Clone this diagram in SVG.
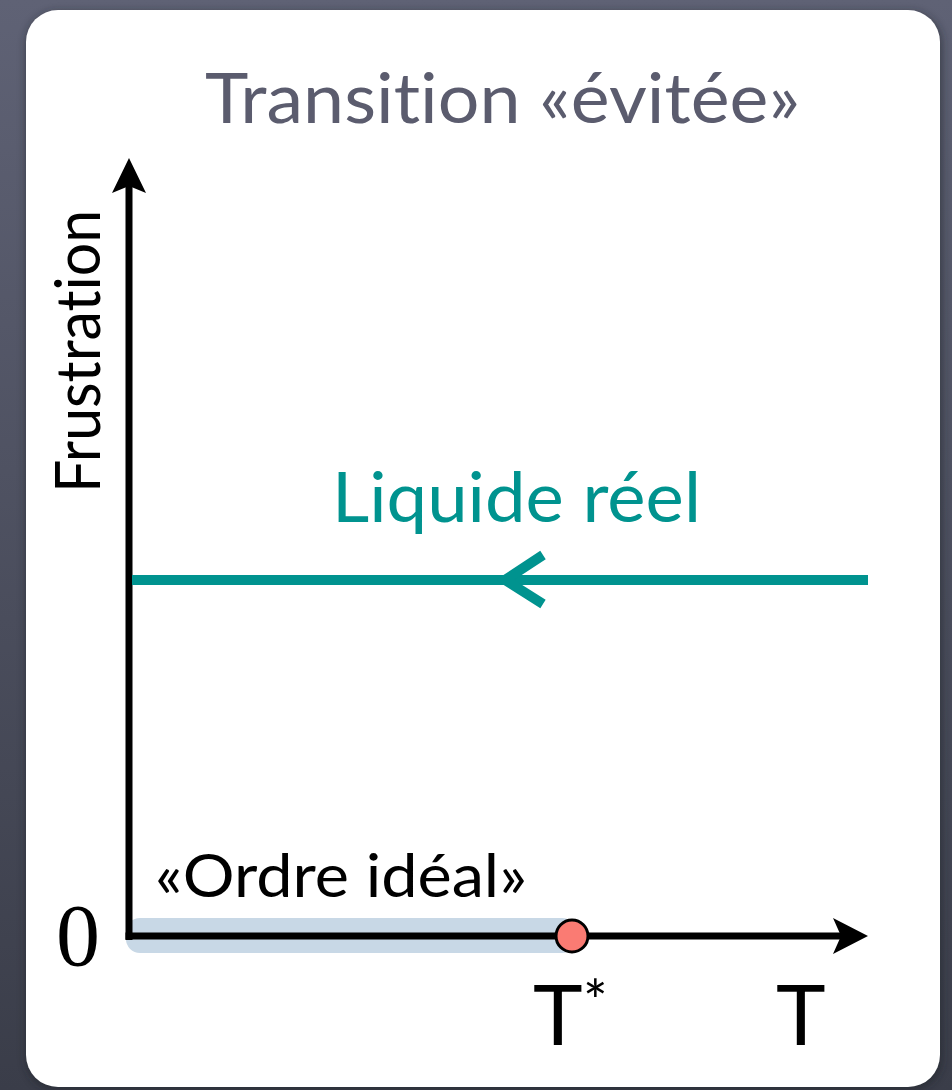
<svg xmlns="http://www.w3.org/2000/svg" width="952" height="1090" viewBox="0 0 952 1090">
  <defs>
    <linearGradient id="bg" x1="0" y1="0" x2="0" y2="1">
      <stop offset="0" stop-color="#5f6275"/>
      <stop offset="1" stop-color="#3a3d49"/>
    </linearGradient>
    <filter id="shadow" x="-5%" y="-5%" width="110%" height="110%">
      <feGaussianBlur stdDeviation="4"/>
    </filter>
  </defs>
  <style>
    .sans { font-family: Lato, "Open Sans", "Liberation Sans", sans-serif; font-weight: 400; font-variant-ligatures: none; }
    .serif { font-family: "Liberation Serif", serif; }
    .axis { stroke: #000; stroke-width: 7; fill: none; }
    .head { fill: #000; stroke: none; }
    .teal { stroke: #00938f; stroke-width: 10; fill: none; }
  </style>
  <rect x="0" y="0" width="952" height="1090" fill="url(#bg)"/>
  <rect x="26" y="12" width="916" height="1078" rx="32" fill="#1e2028" opacity="0.55" filter="url(#shadow)"/>
  <rect id="card" x="26" y="10" width="914" height="1077" rx="32" fill="#ffffff"/>

  <g id="title">
    <text class="sans" x="205" y="123" font-size="70" fill="#5b5c6e" textLength="595" lengthAdjust="spacingAndGlyphs">Transition «évitée»</text>
  </g>

  <g id="band">
    <rect x="126" y="918" width="450" height="35" rx="14" fill="#c8d8e6"/>
  </g>

  <g id="connectors">
    <line class="axis" x1="129" y1="185" x2="129" y2="940"/>
    <path class="head" d="M129,158 L146,193 L129,186 L112,193 Z"/>
    <line class="axis" x1="125.5" y1="936" x2="845" y2="936"/>
    <path class="head" d="M868,936 L833,918 L841,936 L833,954 Z"/>
    <line class="teal" x1="132" y1="580" x2="868" y2="580"/>
    <polyline class="teal" points="543,555 505,580 543,604"/>
  </g>

  <g id="point-tstar">
    <circle cx="572" cy="936" r="16" fill="#fa7b73" stroke="#000" stroke-width="3"/>
  </g>

  <g id="label-frustration">
    <text class="sans" transform="translate(100,493) rotate(-90)" x="0" y="0" font-size="62" fill="#000" textLength="283" lengthAdjust="spacingAndGlyphs">Frustration</text>
  </g>
  <g id="label-liquide">
    <text class="sans" x="332" y="522" font-size="70" fill="#00938f" textLength="369" lengthAdjust="spacingAndGlyphs">Liquide réel</text>
  </g>
  <g id="label-ordre">
    <text class="sans" x="155" y="897" font-size="60" fill="#000" textLength="372" lengthAdjust="spacingAndGlyphs">«Ordre idéal»</text>
  </g>
  <g id="label-zero">
    <text class="serif" x="56" y="965" font-size="88" fill="#000">0</text>
  </g>
  <g id="label-tstar">
    <text class="sans" x="533" y="1045" font-size="84" fill="#000">T</text>
    <text class="sans" x="583" y="1022" font-size="58" fill="#000">*</text>
  </g>
  <g id="label-t">
    <text class="sans" x="776" y="1045" font-size="84" fill="#000">T</text>
  </g>
</svg>
